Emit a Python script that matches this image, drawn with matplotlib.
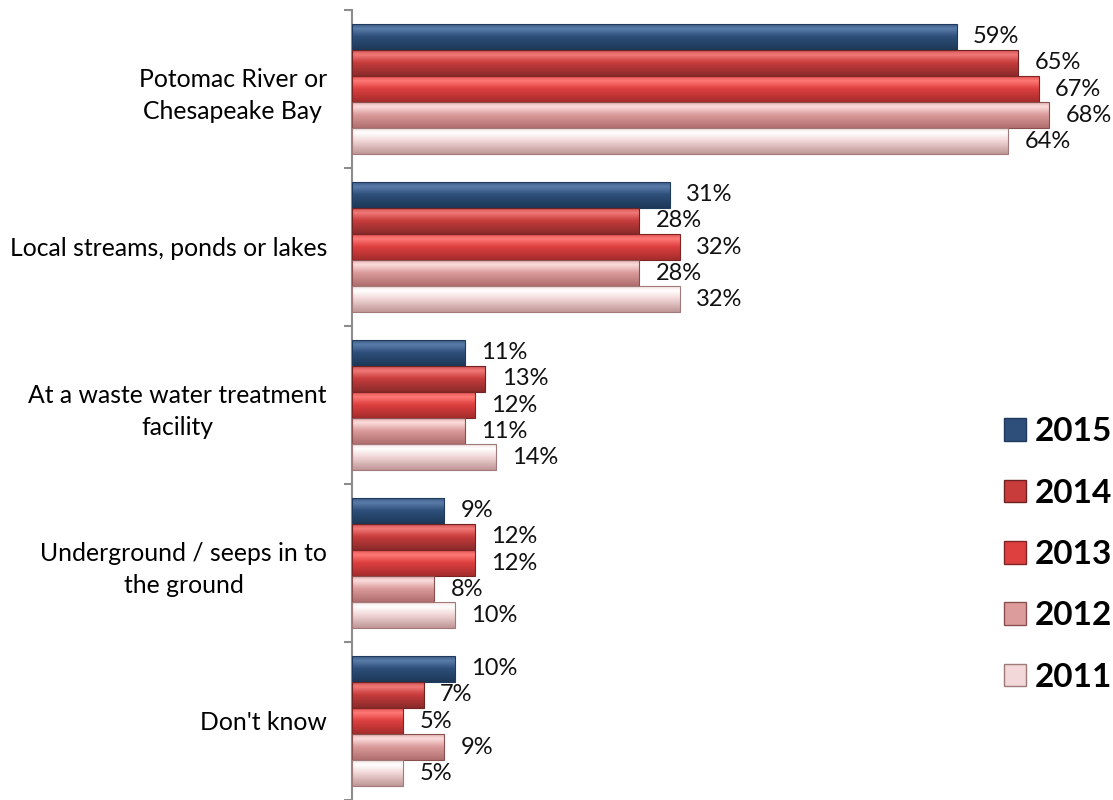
import matplotlib.pyplot as plt
import numpy as np
from matplotlib.colors import LinearSegmentedColormap
from matplotlib.patches import Patch

plt.rcParams['font.family'] = ['Lato', 'DejaVu Sans']

categories = ["Potomac River or\nChesapeake Bay",
              "Local streams, ponds or lakes",
              "At a waste water treatment\nfacility",
              "Underground / seeps in to\nthe ground",
              "Don't know"]
years = ["2015", "2014", "2013", "2012", "2011"]
v2015 = [59, 31, 11, 9, 10]
v2014 = [65, 28, 13, 12, 7]
v2013 = [67, 32, 12, 12, 5]
v2012 = [68, 28, 11, 8, 9]
v2011 = [64, 32, 14, 10, 5]
series = [v2015, v2014, v2013, v2012, v2011]

# top edge, highlight, body, bottom
shades = [
    ["#34557f", "#5a7ca8", "#2e4f7a", "#1d3858"],
    ["#c94848", "#f17a78", "#c83c3c", "#8a2a2a"],
    ["#d84848", "#ff7a76", "#de4040", "#a52c2c"],
    ["#e0a8a8", "#fbdcdc", "#dc9c9c", "#b06e6e"],
    ["#f2dcdc", "#ffffff", "#f2d8d8", "#c09696"],
]
edges = ["#1f3a5c", "#6e2222", "#7e2424", "#8a5050", "#a07a7a"]


def shade_bar(ax, bar, cmap):
    x, y = bar.get_x(), bar.get_y()
    w, h = bar.get_width(), bar.get_height()
    grad = np.linspace(0, 1, 64).reshape(-1, 1)
    im = ax.imshow(grad, cmap=cmap, aspect='auto', interpolation='bilinear',
                   extent=(x, x + w, y + h, y), zorder=2)
    im.set_clip_path(bar)


fig = plt.figure(figsize=(11.13, 8), dpi=100)
ax = fig.add_axes([352 / 1113, 0, 1 - 352 / 1113, 790 / 800])

n = len(categories)
ypos = np.arange(n)
h = 0.165

for i, (vals, year) in enumerate(zip(series, years)):
    cmap = LinearSegmentedColormap.from_list(
        year, list(zip([0.0, 0.2, 0.5, 1.0], shades[i])))
    bars = ax.barh(ypos + (i - 2) * h, vals, height=h, facecolor='none',
                   edgecolor=edges[i], linewidth=0.8, zorder=3)
    for bar, v in zip(bars, vals):
        shade_bar(ax, bar, cmap)
        ax.text(v + 1.6, bar.get_y() + h / 2, f"{v}%", va='center',
                ha='left', fontsize=17, color='#111111')

ax.set_xlim(0, (1113 - 352) / 10.25)
ax.set_ylim(n - 0.5, -0.5)

ax.set_yticks(ypos)
ax.set_yticklabels(categories, fontsize=17.8)
for lbl in ax.get_yticklabels():
    lbl.set_multialignment('center')
    lbl.set_linespacing(1.45)
ax.set_yticks(np.arange(n + 1) - 0.5, minor=True)
ax.tick_params(axis='y', which='major', length=0, pad=18)
ax.tick_params(axis='y', which='minor', length=5.8, width=1.5, color='#8c8c8c')
ax.xaxis.set_visible(False)
for s in ['top', 'right', 'bottom']:
    ax.spines[s].set_visible(False)
ax.spines['left'].set_color('#8c8c8c')
ax.spines['left'].set_linewidth(1.5)

handles = [Patch(facecolor=shades[i][2], edgecolor=edges[i], label=years[i])
           for i in range(len(years))]
fig.legend(handles=handles, loc='center left',
           bbox_to_anchor=(1004 / 1113, 1 - 554.5 / 800), frameon=False,
           prop={'weight': 'bold', 'size': 24}, handlelength=0.66,
           handleheight=0.66, handletextpad=0.27, labelspacing=0.97,
           borderpad=0, borderaxespad=0)

fig.savefig('out.png', dpi=100)
